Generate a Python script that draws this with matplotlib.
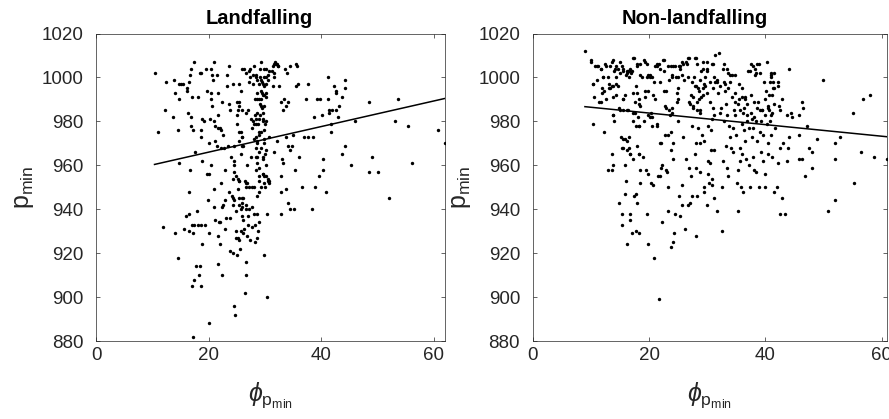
import numpy as np
import matplotlib
matplotlib.use("Agg")
import matplotlib.pyplot as plt

plt.rcParams["font.family"] = ["Liberation Sans", "DejaVu Sans"]
plt.rcParams["mathtext.fontset"] = "custom"
plt.rcParams["mathtext.rm"] = "Liberation Sans"
plt.rcParams["mathtext.it"] = "Liberation Sans:italic"

# (phi_pmin, pmin) pairs for each storm group
landfalling_pts = [
    (10.4, 1002), (11.0, 975), (11.9, 932), (12.3, 985), (12.5, 998), (13.6, 982), (13.9, 999), (14.0, 993), (14.0, 929), (14.6, 976),
    (14.6, 918), (14.8, 961), (14.8, 990), (14.8, 997), (15.1, 997), (15.4, 997), (15.6, 931), (16.0, 937), (16.2, 995), (16.2, 994),
    (16.3, 984), (16.5, 948), (16.7, 958), (16.5, 930), (16.6, 938), (16.7, 1001), (16.8, 978), (16.8, 1004), (16.6, 998), (16.8, 982),
    (17.0, 905), (17.1, 933), (17.2, 929), (17.1, 991), (17.2, 976), (17.4, 908), (17.4, 1007), (17.6, 966), (17.5, 933), (17.3, 882),
    (17.8, 914), (18.0, 939), (18.1, 991), (18.2, 933), (18.3, 910), (18.4, 914), (18.5, 1002), (18.6, 1002), (18.6, 933), (18.7, 905),
    (18.7, 973), (18.7, 976), (18.8, 981), (18.9, 962), (18.9, 924), (19.2, 980), (19.4, 933), (19.6, 1004), (19.8, 994), (19.8, 956),
    (19.9, 944), (20.1, 956), (20.0, 970), (20.1, 929), (20.0, 888), (20.2, 981), (20.4, 1004), (20.4, 960), (20.5, 993), (20.5, 990),
    (20.7, 1001), (20.7, 987), (20.8, 999), (21.0, 980), (21.0, 949), (21.0, 941), (21.0, 1007), (21.1, 978), (21.2, 971), (21.2, 935),
    (21.5, 969), (21.5, 1001), (21.7, 915), (21.7, 993), (21.7, 983), (21.7, 977), (21.7, 928), (21.8, 934), (22.0, 977), (22.1, 934),
    (22.1, 924), (22.2, 968), (22.2, 952), (22.3, 976), (22.4, 910), (22.4, 989), (22.4, 941), (22.5, 974), (22.6, 942), (22.8, 968),
    (22.9, 958), (22.9, 944), (23.0, 931), (23.1, 936), (23.3, 1001), (23.3, 996), (23.5, 969), (23.6, 948), (23.7, 988), (23.7, 1005),
    (23.8, 985), (23.9, 936), (23.9, 921), (24.0, 964), (24.1, 946), (24.3, 920), (24.3, 945), (24.4, 954), (24.3, 942), (24.4, 997),
    (24.5, 969), (24.6, 896), (24.7, 892), (24.8, 930), (24.8, 927), (24.9, 955), (24.9, 939), (25.0, 919), (25.1, 979), (25.1, 989),
    (25.2, 954), (25.2, 949), (25.2, 985), (25.4, 945), (25.5, 989), (25.5, 997), (25.5, 953), (25.6, 922), (25.7, 930), (25.8, 940),
    (25.8, 975), (25.8, 994), (25.8, 965), (25.9, 973), (25.9, 941), (26.0, 937), (26.0, 943), (26.1, 969), (26.2, 945), (26.3, 1004),
    (26.3, 931), (26.4, 902), (26.5, 953), (26.6, 916), (26.6, 910), (26.7, 950), (26.7, 942), (26.8, 960), (26.9, 952), (26.9, 928),
    (27.0, 985), (27.1, 937), (27.2, 998), (27.3, 1004), (27.3, 1000), (27.4, 926), (27.5, 964), (27.6, 981), (27.7, 977), (27.9, 997),
    (27.9, 980), (27.9, 1001), (28.0, 950), (28.1, 1005), (28.1, 972), (28.1, 938), (28.2, 925), (28.3, 990), (28.3, 983), (28.4, 979),
    (28.5, 964), (28.5, 1001), (28.6, 990), (28.6, 938), (28.7, 970), (28.7, 961), (28.7, 927), (28.8, 979), (28.8, 930), (28.9, 975),
    (28.9, 997), (29.0, 955), (29.0, 966), (29.0, 934), (29.1, 988), (29.2, 1004), (29.2, 1000), (29.2, 983), (29.3, 968), (29.3, 1007),
    (29.3, 975), (29.3, 950), (29.4, 990), (29.5, 998), (29.5, 993), (29.5, 986), (29.6, 981), (29.6, 956), (29.7, 964), (29.8, 1004),
    (29.8, 952), (29.8, 992), (29.9, 972), (29.9, 1000), (29.9, 919), (30.0, 979), (30.1, 950), (30.1, 965), (30.2, 997), (30.2, 991),
    (30.3, 1004), (30.3, 955), (30.4, 900), (30.4, 938), (30.5, 953), (30.6, 1001), (30.7, 952), (30.8, 953), (30.8, 973), (31.3, 1003),
    (31.5, 996), (31.7, 1002), (31.7, 1006), (31.9, 1007), (32.1, 1006), (32.1, 971), (32.3, 1005), (31.7, 966), (32.6, 996), (32.8, 989),
    (32.8, 955), (32.8, 938), (32.9, 948), (33.0, 963), (33.2, 961), (33.3, 985), (33.4, 990), (33.6, 1004), (33.7, 973), (33.8, 987),
    (33.8, 949), (34.0, 1002), (34.1, 969), (34.1, 943), (34.2, 989), (34.4, 1005), (34.5, 967), (34.5, 940), (34.8, 969), (35.1, 974),
    (35.2, 940), (35.4, 958), (35.5, 1006), (35.5, 996), (35.8, 1005), (35.9, 997), (36.1, 964), (36.6, 950), (36.9, 973), (37.3, 990),
    (37.7, 997), (37.7, 973), (38.4, 940), (38.6, 973), (38.7, 982), (38.9, 950), (39.3, 990), (39.6, 955), (39.9, 990), (40.1, 983),
    (40.3, 963), (40.4, 958), (40.9, 948), (41.2, 1000), (41.2, 990), (41.4, 985), (41.5, 984), (41.7, 979), (41.8, 975), (42.0, 985),
    (42.3, 996), (42.6, 994), (42.7, 985), (42.7, 993), (43.0, 982), (43.2, 987), (43.7, 991), (43.8, 965), (44.2, 999), (44.2, 995),
    (44.2, 969), (45.4, 960), (46.1, 980), (48.5, 957), (48.6, 989), (49.1, 964), (50.1, 957), (52.1, 945), (53.1, 980), (53.6, 990),
    (55.4, 978), (56.2, 961), (60.7, 976), (62.1, 970),
    (28.4, 1000), (28.7, 999), (29.3, 999), (29.6, 997), (30.2, 1000), (30.5, 999), (29.9, 996), (29.3, 994), (28.7, 993), (29.6, 992),
    (30.2, 993), (29.0, 990), (29.3, 987), (29.9, 987), (28.7, 984), (29.6, 984), (29.0, 981), (28.4, 981), (29.6, 980), (30.2, 980),
    (28.1, 979), (29.9, 976), (29.0, 974), (28.4, 973), (26.0, 1004), (26.6, 1002), (27.2, 1003), (31.4, 1005), (32.0, 1006), (32.3, 1005),
    (30.8, 1003), (31.7, 1000), (25.4, 987), (26.0, 985), (26.6, 984), (25.0, 983), (25.4, 975), (26.0, 973), (25.4, 971), (26.0, 969),
    (28.7, 971), (29.9, 970), (28.4, 968), (30.2, 967), (28.7, 964), (29.6, 963), (30.2, 960), (29.0, 959), (28.4, 958), (29.6, 956),
    (30.5, 954), (29.0, 953), (24.5, 962), (24.5, 960), (24.5, 957), (25.5, 953), (26.6, 952), (27.2, 950), (27.7, 950), (29.8, 955),
    (28.6, 946), (29.0, 948), (24.6, 944), (26.0, 945), (25.5, 942), (26.6, 940), (27.2, 940), (27.7, 941), (26.2, 935), (27.0, 933),
    (27.7, 932), (28.2, 933), (25.2, 927), (25.5, 926), (26.2, 929),
]

nonlandfalling_pts = [
    (9.0, 1012), (10.0, 1008), (10.0, 1007), (10.3, 997), (10.3, 979), (10.5, 991), (10.7, 1005), (11.0, 999), (11.2, 1005), (11.5, 989),
    (11.8, 989), (11.8, 1004), (11.9, 995), (12.1, 1000), (12.2, 975), (12.3, 994), (12.5, 1006), (12.7, 1005), (12.9, 1000), (12.9, 958),
    (13.1, 995), (13.2, 997), (13.3, 1005), (13.6, 996), (13.6, 965), (13.6, 958), (13.8, 1008), (13.8, 983), (13.8, 960), (13.9, 996),
    (14.0, 1003), (14.0, 980), (14.3, 1000), (14.3, 992), (14.4, 1005), (14.7, 1004), (14.7, 996), (14.8, 986), (14.8, 943), (15.0, 1007),
    (15.1, 1002), (15.1, 985), (15.2, 973), (15.3, 938), (15.4, 1005), (15.4, 933), (15.5, 985), (15.5, 990), (15.6, 968), (15.6, 1003),
    (15.8, 960), (15.8, 972), (15.9, 947), (16.0, 1001), (16.1, 953), (16.2, 985), (16.2, 967), (16.3, 1003), (16.3, 924), (16.4, 1003),
    (16.5, 973), (16.6, 968), (16.6, 1000), (16.7, 1004), (16.7, 965), (16.8, 938), (16.8, 935), (16.9, 1002), (17.0, 1003), (17.1, 929),
    (17.2, 993), (17.2, 984), (17.3, 963), (17.3, 980), (17.5, 1009), (17.5, 946), (17.6, 984), (17.7, 978), (17.7, 930), (17.8, 996),
    (17.8, 947), (17.9, 969), (17.9, 943), (18.0, 1006), (18.1, 982), (18.2, 929), (18.3, 978), (18.3, 990), (18.3, 965), (18.4, 958),
    (18.5, 952), (18.5, 1001), (18.8, 1000), (18.9, 964), (19.1, 980), (19.2, 1008), (19.3, 994), (19.4, 958), (19.6, 938), (19.7, 1006),
    (19.7, 1000), (19.8, 956), (19.8, 924), (19.9, 994), (20.1, 1000), (20.2, 982), (20.2, 1001), (20.3, 984), (20.4, 952), (20.5, 978),
    (20.7, 951), (20.8, 918), (20.9, 998), (21.0, 990), (21.1, 1005), (21.3, 979), (21.4, 1006), (21.6, 955), (21.7, 899), (21.8, 1006),
    (21.9, 955), (21.9, 998), (22.1, 970), (22.1, 959), (22.2, 960), (22.3, 934), (22.4, 1008), (22.5, 994), (22.6, 1003), (22.8, 974),
    (22.9, 986), (22.9, 958), (23.1, 957), (23.2, 939), (23.3, 950), (23.3, 1005), (23.4, 999), (23.6, 983), (23.7, 967), (23.7, 975),
    (23.8, 923), (23.9, 984), (23.9, 986), (24.1, 963), (24.1, 970), (24.2, 925), (24.3, 929), (24.5, 938), (24.9, 990), (24.9, 980),
    (25.0, 1000), (25.0, 995), (25.2, 1005), (25.2, 946), (25.3, 1005), (25.4, 937), (25.6, 1007), (25.6, 942), (25.7, 951), (25.9, 973),
    (26.0, 999), (26.1, 931), (26.3, 963), (26.5, 1006), (26.7, 942), (26.8, 989), (26.9, 1009), (26.9, 959), (27.0, 943), (27.2, 992),
    (27.2, 955), (27.3, 978), (27.4, 946), (27.6, 991), (27.6, 987), (27.7, 1000), (27.9, 965), (27.9, 996), (28.0, 928), (28.0, 1009),
    (28.1, 959), (28.1, 970), (28.2, 946), (28.3, 1006), (28.4, 977), (28.4, 995), (28.5, 990), (28.7, 985), (28.8, 970), (28.8, 957),
    (28.8, 999), (28.9, 1003), (29.1, 974), (29.2, 995), (29.3, 1004), (29.3, 992), (29.4, 950), (29.5, 948), (29.5, 971), (29.6, 1000),
    (29.7, 996), (29.9, 1007), (29.9, 942), (30.0, 1003), (30.1, 978), (30.1, 962), (30.2, 956), (30.3, 952), (30.4, 989), (30.5, 998),
    (30.5, 961), (30.6, 967), (30.7, 976), (30.8, 981), (30.8, 951), (30.9, 954), (31.0, 1006), (31.1, 983), (31.1, 1000), (31.2, 967),
    (31.2, 945), (31.3, 1010), (31.4, 998), (31.6, 998), (31.7, 939), (32.0, 1011), (32.2, 996), (32.3, 986), (32.5, 950), (32.6, 930),
    (32.7, 1004), (32.7, 962), (32.8, 998), (32.9, 980), (33.1, 994), (33.2, 988), (33.2, 969), (33.4, 959), (33.5, 1002), (33.6, 955),
    (33.8, 978), (33.9, 998), (33.9, 973), (34.0, 968), (34.2, 1001), (34.3, 991), (34.4, 977), (34.5, 966), (34.7, 989), (34.8, 1001),
    (34.9, 974), (35.1, 952), (35.2, 958), (35.2, 939), (35.4, 990), (35.5, 997), (35.6, 962), (35.6, 968), (35.8, 950), (35.9, 979),
    (35.9, 991), (36.0, 965), (36.1, 948), (36.2, 984), (36.3, 976), (36.4, 991), (36.5, 971), (36.7, 963), (36.8, 980), (36.9, 988),
    (37.0, 1003), (37.1, 977), (37.2, 960), (37.4, 950), (37.5, 1006), (37.5, 984), (37.7, 973), (37.8, 964), (37.9, 977), (38.1, 958),
    (38.2, 1001), (38.3, 980), (38.4, 957), (38.5, 1006), (38.6, 971), (38.7, 989), (38.9, 950), (39.0, 975), (39.1, 1002), (39.2, 966),
    (39.3, 980), (39.4, 985), (39.5, 974), (39.6, 962), (39.8, 998), (40.0, 956), (40.0, 950), (40.1, 994), (40.2, 1007), (40.3, 979),
    (40.4, 965), (40.5, 970), (40.6, 992), (40.7, 998), (40.8, 980), (40.9, 974), (40.9, 1000), (41.0, 1002), (41.1, 964), (41.2, 984),
    (41.3, 995), (41.4, 948), (41.5, 1002), (41.5, 988), (41.6, 977), (41.9, 950), (42.1, 961), (42.2, 998), (42.4, 987), (42.5, 968),
    (42.5, 938), (42.8, 945), (43.0, 970), (43.4, 938), (43.7, 962), (43.8, 968), (44.0, 973), (44.1, 1004), (44.4, 984), (44.5, 982),
    (45.7, 983), (45.8, 974), (45.8, 963), (46.2, 989), (46.3, 963), (46.5, 986), (46.8, 955), (47.1, 978), (47.4, 968), (48.0, 959),
    (48.0, 966), (48.9, 972), (49.8, 999), (50.7, 939), (52.0, 970), (52.0, 963), (52.0, 944), (52.8, 973), (55.0, 984), (55.2, 952),
    (56.4, 966), (56.8, 990), (57.9, 992), (58.7, 964), (60.9, 963),
    (11.0, 1005), (11.7, 1004), (13.6, 1007), (14.1, 1004), (15.6, 1004), (16.2, 1002), (16.5, 1003), (17.3, 1009), (17.9, 1005), (18.4, 1006),
    (19.3, 1007), (19.9, 1001), (20.5, 1000), (21.3, 1005), (21.9, 1004), (22.5, 1008), (23.8, 1005), (24.4, 1005), (12.1, 1000), (13.3, 995),
    (14.4, 997), (10.4, 997), (11.9, 993), (12.6, 990), (13.9, 991), (15.9, 992), (17.9, 993), (19.3, 991), (20.7, 992), (22.9, 994),
    (23.9, 1000), (18.2, 988), (18.4, 987), (17.6, 989), (15.6, 990), (22.8, 987), (23.4, 985), (16.4, 985), (19.9, 983), (20.5, 982),
    (13.9, 983), (18.2, 978), (21.3, 978), (23.3, 974), (15.6, 972), (16.2, 971), (21.9, 970), (15.3, 968), (16.8, 965), (18.2, 965),
    (27.9, 1009), (26.7, 1009), (25.4, 1004), (25.8, 1006), (26.3, 1007), (24.2, 1005), (29.3, 1007), (29.9, 1004), (30.8, 1006), (32.8, 1006),
    (33.4, 1004), (33.9, 1001), (37.4, 1003), (37.9, 1005), (38.2, 1004), (38.8, 1006), (38.4, 1002), (41.0, 1001), (41.3, 998), (41.5, 995),
    (41.1, 992), (23.9, 1001), (24.6, 1000), (25.6, 1001), (26.7, 1000), (27.4, 998), (28.1, 996), (28.5, 994), (29.0, 991), (29.5, 997),
    (29.9, 993), (31.0, 995), (31.6, 999), (31.9, 993), (33.0, 997), (33.6, 995), (34.8, 993), (35.3, 988), (35.9, 995), (36.3, 986),
    (36.5, 990), (35.6, 985), (37.5, 992), (38.1, 989), (38.6, 986), (39.0, 985), (40.0, 990), (40.4, 987), (40.9, 983), (40.6, 985),
    (42.2, 996), (42.9, 990), (43.7, 983), (24.8, 989), (24.8, 993), (27.0, 988), (27.6, 986), (28.3, 985), (28.8, 984), (28.3, 989),
    (31.0, 986), (32.2, 984), (33.4, 983), (34.6, 985), (34.8, 983), (36.9, 983), (37.6, 981), (38.0, 982), (39.4, 985), (39.9, 983),
    (40.4, 986), (42.5, 985),
]

# least-squares line (slope, intercept) for each group
land_fit = (0.582, 954.35)
nonland_fit = (-0.264, 989.08)

titles = ["Landfalling", "Non-landfalling"]
yticks = [880, 900, 920, 940, 960, 980, 1000, 1020]
xticks = [0, 20, 40, 60]

fig = plt.figure(figsize=(8.89, 4.19), dpi=100)
ax1 = fig.add_axes([0.108, 0.186, 0.393, 0.734])
ax2 = fig.add_axes([0.599, 0.186, 0.399, 0.734])

dark = "#262626"
for ax, pts, fit, title, tx in [(ax1, landfalling_pts, land_fit, titles[0], 0.467),
                                 (ax2, nonlandfalling_pts, nonland_fit, titles[1], 0.458)]:
    x, y = np.array(pts).T
    ax.scatter(x, y, s=6, c="k", marker="o", linewidths=0, zorder=3)

    xl = np.array([x.min(), x.max()])
    ax.plot(xl, fit[0] * xl + fit[1], color="k", lw=1.1, zorder=4)

    ax.set_xlim(0, x.max())
    ax.set_ylim(880, 1020)
    ax.set_xticks(xticks)
    ax.set_yticks(yticks)
    ax.tick_params(direction="in", top=True, right=True, length=3, width=0.5,
                   labelsize=13.5, colors=dark)
    ax.tick_params(axis="y", pad=9)
    ax.tick_params(axis="x", pad=4)
    for sp in ax.spines.values():
        sp.set_color(dark)
        sp.set_linewidth(0.5)

    ax.set_title(title, fontsize=14.5, fontweight="bold", x=tx, pad=7)
    ax.set_xlabel(r"$\phi_{\mathrm{p}_{\mathrm{min}}}$", fontsize=18, color=dark, labelpad=12)
    ax.set_ylabel(r"$\mathrm{p}_{\mathrm{min}}$", fontsize=18, color=dark, labelpad=4)

plt.savefig("out.png", dpi=100)
